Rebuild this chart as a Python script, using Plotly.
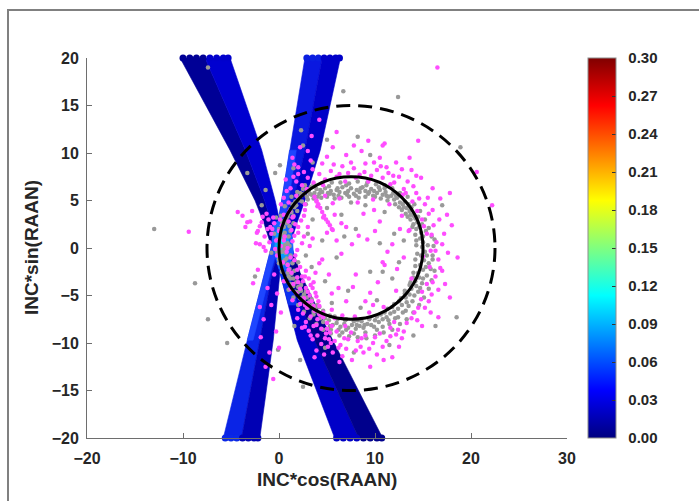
import plotly.graph_objects as go

# ---------------- data ----------------
# blue bands: y levels and x positions of the band boundaries
b_up_y = [20, 10.3, 5, 2.7, 0.5]
b_lo_y = [0.5, -2.6, -9.7, -20]
b1_up_left = [-10.3, -5.1, -2.5, -1.6, -0.9]
b1_up_mid = [-7.7, -3.5, -1.5, -0.8, 0.0]
b1_up_right = [-5.1, -1.8, -0.4, 0.1, 1.0]
b1_lo_left = [-0.8, 0.1, 1.9, 5.8]
b1_lo_mid = [0.2, 1.1, 3.7, 8.3]
b1_lo_right = [1.2, 2.2, 5.6, 10.8]
b2_up_left = [2.7, 1.1, 0.3, -0.1, -0.7]
b2_up_mid = [4.5, 2.7, 1.5, 0.9, 0.2]
b2_up_right = [6.4, 4.3, 2.7, 1.9, 1.2]
b2_lo_left = [-0.7, -1.5, -3.3, -5.8]
b2_lo_mid = [0.2, -0.7, -2.0, -3.9]
b2_lo_right = [1.1, 0.1, -0.6, -2.0]

# brighter patches near the crossing (colour value ~0.05 .. 0.11)
glow_blue = [(-0.6, 2.6), (0.3, 3.0), (1.3, 2.4), (1.5, -0.5), (1.0, -2.4), (0.0, -2.2), (-0.8, 0.5)]
glow_sky = [(-0.3, 1.8), (0.4, 2.1), (1.0, 0.9), (0.9, -1.3), (0.2, -1.5), (-0.5, 0.0)]
glow_cyan = [(-0.1, 1.1), (0.5, 1.2), (0.8, 0.3), (0.6, -0.6), (0.0, -0.5), (-0.2, 0.3)]
glow_b2up = [(-0.1, 2.7), (0.3, 5.0), (1.1, 10.3), (1.8, 10.3), (1.0, 5.0), (0.6, 2.7)]
glow_b2lo = [(-0.7, 0.5), (-1.5, -2.6), (-3.3, -9.7), (-2.7, -9.7), (-0.9, -2.6), (0.0, 0.5)]
glow_b1lo = [(-0.8, 0.5), (0.1, -2.6), (1.0, -6.0), (1.9, -6.0), (1.0, -2.6), (0.1, 0.5)]

# rounded ends of the bands at the axis limits
cap_x = [-10.0, -9.3, -8.6, -7.9, -7.2, -6.5, -5.8, -5.3,
         2.9, 3.5, 4.1, 4.7, 5.3, 5.9, 6.3,
         6.0, 6.7, 7.4, 8.1, 8.8, 9.5, 10.2, 10.7,
         -5.6, -5.0, -4.4, -3.8, -3.2, -2.6, -2.2]
cap_y = [20] * 15 + [-20] * 15
cap_c = ['#000096'] * 4 + ['#0000cc'] * 4 + ['#0a1ee0'] * 3 + ['#0000c8'] * 4 + \
        ['#0000c4'] * 4 + ['#00008c'] * 4 + ['#0a28e6'] * 3 + ['#0000b4'] * 4

gray_pts = [
    (0.5, 2.2), (0.7, 3.0), (0.3, 2.8), (1.0, 3.6), (1.2, 4.1), (0.9, 3.3), (1.4, 4.6), (1.7, 4.9), (1.6, 4.3),
    (2.0, 5.3), (2.3, 5.5), (2.1, 5.0), (2.6, 5.7), (2.9, 5.4), (3.1, 5.9), (3.4, 5.6), (3.7, 5.8), (3.9, 6.2),
    (4.2, 5.7), (4.5, 5.9), (4.8, 6.3), (5.1, 5.8), (5.4, 6.0), (5.7, 5.6), (6.0, 6.1), (6.3, 5.9), (6.6, 6.4),
    (6.9, 5.8), (7.2, 6.0), (7.5, 6.3), (7.8, 5.7), (8.1, 6.1), (8.4, 5.9), (8.7, 6.4), (9.0, 6.0), (9.3, 5.7),
    (9.6, 6.2), (9.9, 6.0), (10.2, 5.8), (10.5, 6.1), (10.8, 5.6), (11.1, 5.9), (11.4, 5.4), (11.7, 5.5),
    (12.0, 5.1), (12.3, 5.3), (12.6, 4.8), (12.9, 4.6), (13.1, 4.9), (13.3, 4.2), (13.6, 3.9), (13.8, 4.3),
    (14.0, 3.4), (14.2, 3.1), (14.4, 2.7), (14.6, 2.2), (14.3, 2.0), (14.8, 1.6), (14.7, 1.0), (15.0, 0.6),
    (14.9, 0.1), (15.2, -0.4), (14.8, -0.8), (15.1, -1.3), (14.7, -1.8), (15.0, -2.3), (14.5, -2.6),
    (14.6, -3.1), (14.2, -3.5), (14.3, -4.0), (13.8, -4.3), (13.6, -4.9), (13.2, -5.2), (13.3, -5.7),
    (12.8, -6.0), (12.4, -6.4), (12.0, -6.7), (11.6, -6.9), (11.2, -7.3), (10.8, -7.5), (10.4, -7.8),
    (10.0, -7.6), (9.6, -8.1), (9.2, -8.0), (8.8, -8.4), (8.4, -8.2), (8.0, -8.5), (7.6, -8.1), (7.2, -8.4),
    (6.8, -8.0), (6.4, -8.3), (6.0, -7.9), (5.6, -8.1), (5.2, -7.6), (4.8, -7.4), (4.5, -7.0), (4.1, -6.8),
    (3.8, -6.3), (3.5, -6.0), (3.2, -5.6), (2.9, -5.2), (2.6, -4.9), (2.3, -4.5), (2.0, -4.1), (1.8, -3.6),
    (1.5, -3.2), (1.3, -2.7), (1.1, -2.2), (0.9, -1.7), (0.8, -1.1), (0.7, -0.5), (0.6, 0.3), (0.5, 1.0),
    (0.6, 1.6),
    (2.5, 6.2), (3.3, 6.4), (4.0, 5.4), (5.2, 6.5), (6.2, 5.5), (7.0, 6.6), (8.0, 5.5), (9.1, 6.6), (10.0, 5.4),
    (11.0, 6.3), (11.9, 5.8), (12.5, 4.3), (13.5, 4.6), (13.4, 3.3), (14.0, 2.5), (15.3, 1.8), (15.5, 0.3),
    (14.3, 0.8), (15.6, -1.6), (14.2, -1.2), (15.4, -2.9), (14.0, -2.6), (14.9, -3.7), (13.7, -3.6),
    (14.5, -4.6), (13.1, -4.5), (13.9, -5.6), (12.7, -5.3), (13.2, -6.6), (12.0, -5.9), (12.4, -7.3),
    (11.3, -6.4), (11.5, -8.0), (10.6, -7.0), (10.2, -8.6), (9.4, -7.4), (9.0, -8.9), (8.2, -7.6),
    (7.8, -9.0), (7.0, -7.5), (6.6, -8.9), (5.8, -7.2), (5.4, -8.6), (4.6, -7.8), (4.2, -6.2), (3.6, -7.0),
    (3.0, -6.3), (2.6, -5.6), (2.2, -5.3), (1.7, -4.6), (1.2, -3.8), (1.0, -3.0), (0.4, -1.6), (0.3, -0.4),
    (0.9, 0.5), (1.2, 1.8), (1.5, 2.6), (1.9, 3.9), (2.8, 4.6), (16.0, -0.8), (15.8, -2.2), (16.2, 0.9),
    (2.4, 4.9), (3.0, 5.1), (3.6, 5.2), (4.4, 5.3), (5.0, 5.4), (5.8, 5.2), (6.5, 5.3), (7.3, 5.4), (8.3, 5.3),
    (9.0, 5.4), (9.8, 5.5), (10.6, 5.2), (11.3, 5.0), (12.1, 4.6), (12.8, 4.0), (13.2, 3.6), (13.7, 3.0),
    (13.9, 2.2), (14.2, 1.4), (14.3, 0.3), (14.4, -0.6), (14.2, -1.9), (14.0, -3.1), (13.6, -3.9),
    (13.1, -4.8), (12.5, -5.6), (11.8, -6.2), (11.0, -6.8), (10.2, -7.2), (9.4, -7.5), (8.6, -7.7),
    (7.8, -7.7), (6.9, -7.6), (6.1, -7.5), (5.3, -7.1), (4.6, -6.6), (4.0, -6.0), (3.4, -5.4), (2.8, -4.6),
    (2.3, -3.9), (1.9, -3.1), (1.6, -2.4), (1.4, -1.6), (1.2, -0.8), (1.1, 0.2), (1.0, 1.2), (1.1, 2.3),
    (1.5, 3.4),
    (1.3, 5.4), (1.9, 5.9), (2.7, 6.6), (3.6, 6.7), (4.5, 6.8), (5.5, 6.9), (6.4, 6.9), (7.3, 6.8), (8.2, 7.0),
    (9.2, 6.9), (10.1, 6.7), (11.0, 6.6), (11.8, 6.3), (12.6, 5.8), (13.4, 5.4), (14.1, 4.6), (14.7, 3.9),
    (15.2, 3.0), (15.6, 2.1), (15.9, 1.2), (16.1, 0.2), (16.0, -1.2), (16.2, -2.4), (15.9, -3.4),
    (15.6, -4.3), (15.1, -5.2), (14.6, -6.0), (14.0, -6.8), (13.3, -7.5), (12.6, -8.0), (11.8, -8.6),
    (10.9, -8.9), (10.0, -9.2), (9.1, -9.5), (8.2, -9.4), (7.3, -9.3), (6.3, -9.2), (5.4, -9.0), (4.6, -8.6),
    (3.9, -8.0), (3.2, -7.4), (2.6, -6.7), (2.0, -6.0), (1.5, -5.2), (1.0, -4.4), (0.6, -3.5), (0.3, -2.5),
    (0.0, -1.6), (-0.2, -0.4), (-0.2, 0.9), (0.0, 2.0), (0.2, 3.4), (0.6, 4.4),
    (2.2, 5.8), (3.2, 5.7), (4.3, 6.1), (5.3, 5.7), (6.1, 6.3), (7.1, 5.6), (8.5, 6.3), (9.4, 5.9), (10.4, 6.4),
    (11.2, 5.5), (12.2, 5.5), (13.0, 4.3), (13.7, 3.5), (14.5, 3.3), (14.9, 2.5), (15.0, 1.2), (15.4, -0.8),
    (15.3, -2.0), (15.0, -3.2), (14.7, -4.2), (14.1, -5.0), (13.5, -6.1), (12.9, -6.8), (12.1, -7.4),
    (11.4, -7.6), (10.8, -8.3), (9.9, -8.3), (8.9, -8.1), (8.1, -8.1), (7.0, -8.6), (6.2, -8.6), (5.3, -8.2),
    (4.3, -7.4), (3.6, -6.7), (3.1, -6.0), (2.4, -5.2), (2.0, -4.6), (1.5, -4.0), (1.2, -3.2), (0.9, -2.6),
    (0.6, -1.3), (0.5, -0.1), (0.3, 1.4), (0.8, 2.6), (1.3, 3.8), (1.8, 4.5),
    (3.5, 3.0), (5.0, 4.2), (6.5, 3.5), (9.0, 4.5), (11.0, 3.8), (12.0, 1.5), (10.5, 0.5), (8.0, 2.0),
    (4.5, 0.8), (3.0, 1.5), (6.0, -1.0), (9.5, -2.5), (11.8, -3.2), (7.2, -4.5), (4.8, -3.5), (3.4, -2.0),
    (12.5, -1.5), (10.2, -5.5), (5.5, -5.8), (8.5, -6.3), (2.8, -0.8), (13.0, 0.8), (7.5, 4.8), (2.0, -1.5),
    (6.8, 1.2), (10.8, -2.5),
    (-13.0, 2.0), (-8.75, -3.7), (-7.4, -7.5), (-5.4, -10.0), (6.7, 16.5), (8.2, 11.7), (5.0, 11.4),
    (0.1, 8.7), (-0.4, 7.9), (-7.4, 19.0), (-3.3, 7.9), (-1.4, 6.1), (-1.8, 4.5), (2.3, 12.4), (2.5, 10.8),
    (1.5, 8.4), (18.9, 10.6), (12.4, 15.9), (18.5, -7.3), (16.3, -8.2), (-0.1, -10.7), (2.5, -14.6),
    (-0.5, 1.5), (-0.8, -0.5), (0.0, -1.2), (-0.3, 3.2), (3.5, 9.0), (9.5, 9.8), (4.8, -10.5), (7.8, -11.0),
    (11.5, -10.2), (14.0, -9.2), (-2.5, -3.0), (1.6, -8.2), (2.2, -11.8), (17.0, 4.5),
]

magenta_pts = [
    (-1.2, 2.0), (-0.8, 1.5), (-0.5, 2.6), (0.0, 1.8), (0.3, 2.4), (0.6, 1.2), (1.0, 2.8), (1.3, 1.9),
    (1.7, 2.5), (2.0, 1.6), (-1.5, 1.2), (-1.0, 0.6), (-0.3, 0.8), (0.2, 0.2), (0.8, -0.4), (1.4, 0.7),
    (1.9, -0.2), (2.3, 2.9), (-0.6, 3.2), (0.5, 3.5), (1.1, 3.9), (-1.8, 2.7), (-2.2, 1.8), (2.6, 3.4),
    (3.0, 2.2), (-0.2, -0.8), (0.4, -1.5), (1.2, -1.0), (2.4, 0.5), (-1.4, -0.3),
    (-9.4, 1.7), (-4.3, 3.8), (-3.3, 2.7), (-3.0, 2.8), (-2.2, -2.3), (-2.7, -3.7),
    (-2.3, 1.6), (-2.0, 0.4), (-2.4, 0.5), (-1.7, 3.3), (-2.0, 2.3), (-1.3, 3.6), (-0.9, 2.2), (-1.6, 0.1),
    (0.9, -1.8), (1.6, -1.3), (2.2, -2.0), (1.3, -2.6), (2.8, -2.4), (1.9, -3.1), (2.5, -3.5), (1.5, -3.8),
    (3.1, -3.2), (2.2, -4.3), (3.0, -4.6), (1.8, -4.8), (3.5, -4.2), (2.6, -5.3), (3.4, -5.6), (2.2, -5.9),
    (3.9, -5.1), (2.9, -6.3), (3.7, -6.6), (2.5, -6.9), (4.2, -6.1), (3.3, -7.2), (4.0, -7.5), (2.8, -7.8),
    (4.6, -6.8), (3.6, -8.2), (4.4, -8.5), (3.1, -8.7), (5.0, -7.9), (4.0, -9.2), (4.8, -9.5), (3.5, -9.6),
    (5.3, -8.9), (4.4, -10.1), (5.1, -10.4), (5.8, -9.8), (3.9, -10.8), (4.7, -11.2), (2.0, -6.5),
    (1.4, -5.5), (2.4, -8.4), (1.9, -7.4), (5.6, -11.0), (6.2, -10.5),
    (-0.5, -2.8), (-1.2, -4.2), (-0.8, -6.0), (-1.6, -7.5), (-0.3, -8.8), (-1.9, -9.4), (-1.0, -11.0),
    (-0.2, -4.8), (-2.0, -6.2), (0.2, -6.8), (-1.4, -12.5), (-0.6, -13.8), (0.5, -3.5), (0.0, -10.5),
    (1.2, 6.3), (1.8, 7.0), (2.4, 6.6), (3.0, 7.4), (3.6, 6.9), (4.2, 7.8), (4.8, 7.2), (5.4, 8.1), (6.0, 7.5),
    (6.6, 8.6), (7.2, 7.9), (7.8, 8.4), (8.4, 7.7), (9.0, 8.9), (9.6, 7.6), (10.2, 8.2), (10.8, 7.4),
    (11.4, 7.9), (12.0, 6.9), (12.5, 7.5), (13.0, 6.2), (2.0, 8.5), (3.3, 9.2), (5.0, 9.6), (7.0, 9.8),
    (8.6, 10.2), (10.5, 9.5), (12.2, 9.0), (13.8, 8.2), (0.5, 5.3), (1.0, 4.8), (2.7, 4.6), (3.9, 4.9),
    (6.3, 5.2), (8.2, 4.8), (9.8, 5.1), (11.5, 4.6), (2.2, 10.6), (6.0, 12.2), (9.3, 11.3), (4.2, 13.5),
    (1.4, 9.5), (11.0, 11.0), (3.4, 11.8),
    (3.7, 5.4), (3.9, 5.0), (4.1, 4.6), (4.3, 4.2), (4.5, 3.8), (4.7, 3.4), (4.9, 3.0), (5.1, 2.7), (5.3, 2.4),
    (4.0, 4.4), (4.6, 3.2), (5.5, 2.0), (5.0, 1.6),
    (1.6, 8.8), (2.0, 7.8), (1.8, 5.5), (2.7, 4.0), (1.4, 3.2), (-3.8, 3.4), (-2.8, 3.9), (-3.5, 2.2),
    (13.2, 5.8), (14.0, 6.5), (14.6, 5.2), (15.2, 4.6), (13.9, 4.9), (15.6, 3.6), (14.9, 3.0), (16.1, 2.4),
    (15.4, 1.5), (16.4, 0.6), (15.8, -0.3), (16.6, -1.2), (15.7, -2.0), (16.3, -3.0), (15.4, -3.8),
    (15.9, -4.9), (14.8, -5.4), (15.2, -6.3), (14.1, -6.8), (14.4, -7.6), (13.3, -7.9), (13.0, -8.8),
    (12.2, -9.1), (11.6, -8.4), (17.2, 1.5), (17.0, -2.4), (17.5, 3.5), (16.8, 5.2), (17.8, 5.8), (20.6, 8.0),
    (22.2, 4.5), (13.6, 9.5), (10.8, 10.8), (14.5, 11.3), (16.5, 19.0), (18.6, -1.0), (17.8, -5.2),
    (16.6, -7.3), (13.8, -3.2), (13.5, 1.8), (12.8, 3.4), (13.0, -1.0),
    (6.0, -8.8), (6.8, -9.5), (7.5, -8.9), (8.2, -9.8), (9.0, -9.2), (9.8, -10.0), (10.5, -9.0), (11.2, -9.8),
    (7.0, -10.6), (8.8, -11.0), (10.2, -11.2), (5.8, -7.4), (6.6, -7.1), (7.9, -7.2), (9.4, -6.8),
    (10.9, -6.2), (12.0, -7.8), (12.5, -10.4), (6.3, -12.0), (9.5, -12.5), (5.5, -6.5), (8.5, -10.4),
    (11.8, -11.5),
    (3.5, 1.0), (5.8, 3.5), (7.0, 2.2), (8.8, 3.6), (10.5, 2.8), (11.8, 0.4), (9.2, 0.9), (6.5, -0.6),
    (4.2, -1.6), (8.0, -2.8), (10.3, -3.6), (12.2, -4.5), (6.2, -4.2), (9.0, -5.6), (3.6, -3.6), (11.0, -1.8),
    (7.6, 0.4), (5.2, -2.8), (12.6, 2.0), (4.8, 5.5), (9.9, 4.0), (7.7, -4.1), (9.5, -4.7), (10.8, -1.5),
    (13.6, 1.9), (4.5, -1.2), (5.6, 1.9),
    (1.5, 7.5), (2.6, 8.0), (3.5, 8.3), (4.5, 8.9), (5.7, 8.8), (6.3, 7.8), (7.5, 9.0), (8.0, 7.4), (8.9, 8.0),
    (9.9, 9.0), (10.6, 8.6), (11.2, 8.5), (11.9, 7.6), (12.8, 8.3), (13.4, 7.0), (14.3, 7.6), (2.9, 6.2),
    (4.6, 6.6), (6.9, 7.0), (9.3, 7.0), (11.6, 6.7), (12.9, 5.6), (0.8, 6.0), (0.2, 4.6), (0.7, 7.2),
    (3.0, 10.2), (7.8, 10.8), (5.6, 10.6),
    (14.3, 5.8), (15.5, 5.3), (16.0, 4.0), (14.4, 3.9), (16.7, 3.0), (15.1, 2.3), (15.9, 1.4), (17.0, 0.4),
    (16.3, -0.3), (15.0, -0.9), (16.8, -2.1), (16.0, -3.6), (14.9, -4.6), (16.6, -4.4), (15.6, -5.6),
    (14.5, -6.3), (15.8, -6.8), (13.8, -7.4), (14.9, -8.2), (12.8, -9.5), (17.6, -0.5), (18.0, 2.4),
    (17.3, -3.8), (16.0, 6.3), (14.8, 7.4),
    (5.2, -9.6), (6.4, -10.2), (7.2, -9.6), (8.0, -10.8), (8.6, -9.5), (9.4, -10.6), (10.0, -9.4),
    (10.8, -10.4), (11.6, -9.3), (12.4, -8.6), (6.9, -8.2), (7.6, -11.8), (10.9, -11.8), (4.3, -7.0),
    (5.0, -8.5),
    (0.5, 0.8), (1.6, 1.3), (-0.7, 2.0), (0.1, 3.0), (1.5, 3.3), (2.0, 2.2), (-1.1, 3.0), (0.9, 0.0),
    (1.7, -0.8), (2.6, 1.2), (-0.4, -0.1), (1.0, -2.3), (1.9, -2.3), (2.7, -3.0), (2.0, -3.6), (3.3, -3.9),
    (2.8, -4.2), (3.8, -4.7), (3.2, -5.0), (4.1, -5.6), (3.0, -5.8), (3.6, -6.1), (4.6, -7.3), (3.9, -8.1),
    (4.2, -7.0), (5.5, -8.2), (4.9, -9.0), (5.4, -10.0), (3.3, -9.2), (2.7, -8.3), (6.6, -11.4), (3.7, -11.5),
    (2.4, -3.0), (1.2, -4.3), (2.7, -6.0),
    (5.6, 4.7), (6.5, 2.6), (3.2, 0.2), (8.3, 1.3), (10.0, 1.8), (11.3, -0.4), (12.3, -2.2), (9.8, -6.0),
    (7.0, -5.6), (5.5, -4.8), (3.8, -2.6), (6.0, 0.8),
]

# reference circles: (centre x, centre y, radius)
solid_circle = (7.5, 0.0, 7.5)
dashed_circle = (7.5, 0.0, 15.0)

x_ticks = [-20, -10, 0, 10, 20, 30]
y_ticks = [-20, -15, -10, -5, 0, 5, 10, 15, 20]
cbar_ticks = [0.0, 0.03, 0.06, 0.09, 0.12, 0.15, 0.18, 0.21, 0.24, 0.27, 0.30]

# ---------------- figure ----------------
FONT = "Liberation Sans, Arial, sans-serif"
TXT = "#262626"
jet = [[0.0, 'rgb(0,0,128)'], [0.125, 'rgb(0,0,255)'], [0.375, 'rgb(0,255,255)'],
       [0.625, 'rgb(255,255,0)'], [0.875, 'rgb(255,0,0)'], [1.0, 'rgb(128,0,0)']]

fig = go.Figure()


def strip(xa, xb, ys, color):
    fig.add_trace(go.Scatter(x=list(xa) + list(xb)[::-1], y=list(ys) + list(ys)[::-1],
                             mode='lines', fill='toself', fillcolor=color,
                             line=dict(width=0.6, color=color), hoverinfo='skip', showlegend=False))


def poly(pts, color):
    fig.add_trace(go.Scatter(x=[p[0] for p in pts], y=[p[1] for p in pts], mode='lines',
                             fill='toself', fillcolor=color, line=dict(width=0.6, color=color),
                             hoverinfo='skip', showlegend=False))


strip(b1_up_left, b1_up_mid, b_up_y, '#000096')
strip(b1_up_mid, b1_up_right, b_up_y, '#0000d0')
strip(b1_lo_left, b1_lo_mid, b_lo_y, '#0000c8')
strip(b1_lo_mid, b1_lo_right, b_lo_y, '#00008c')
strip(b2_up_left, b2_up_mid, b_up_y, '#0a18e0')
strip(b2_up_mid, b2_up_right, b_up_y, '#0000c8')
strip(b2_lo_left, b2_lo_mid, b_lo_y, '#0a24e6')
strip(b2_lo_mid, b2_lo_right, b_lo_y, '#0000b4')
poly(glow_b2up, '#1e46ff')
poly(glow_b2lo, '#1e46ff')
poly(glow_b1lo, '#0a32f0')
poly(glow_blue, '#1464ff')
poly(glow_sky, '#0a9bff')
poly(glow_cyan, '#00e6ff')

fig.add_trace(go.Scatter(x=cap_x, y=cap_y, mode='markers', cliponaxis=False,
                         marker=dict(size=7, color=cap_c, line=dict(width=0)),
                         hoverinfo='skip', showlegend=False))

fig.add_trace(go.Scatter(x=[p[0] for p in gray_pts], y=[p[1] for p in gray_pts], mode='markers',
                         marker=dict(size=4.5, color='#999999', line=dict(width=0)), showlegend=False))
fig.add_trace(go.Scatter(x=[p[0] for p in magenta_pts], y=[p[1] for p in magenta_pts], mode='markers',
                         marker=dict(size=4.5, color='#ff4dff', line=dict(width=0)), showlegend=False))

# colour bar carrier (point outside the visible range)
fig.add_trace(go.Scatter(x=[100], y=[100], mode='markers', hoverinfo='skip', showlegend=False,
                         marker=dict(size=1, color=[0.0], cmin=0.0, cmax=0.30, colorscale=jet,
                                     showscale=True,
                                     colorbar=dict(x=(588 - 87) / 480, xanchor='left', xpad=0,
                                                   y=0.5, yanchor='middle', len=1.0, lenmode='fraction',
                                                   ypad=0, thickness=28, outlinewidth=1, outlinecolor='#8c8c8c',
                                                   tickvals=cbar_ticks,
                                                   ticktext=['\u00a0\u00a0%.2f' % v for v in cbar_ticks],
                                                   ticks='inside', ticklen=4, tickcolor='#333333',
                                                   tickfont=dict(family=FONT, size=15, color=TXT,
                                                                 weight='bold')))))

for (cx, cy, r), dash in ((solid_circle, 'solid'), (dashed_circle, '14px,8px')):
    fig.add_shape(type='circle', xref='x', yref='y', x0=cx - r, x1=cx + r, y0=cy - r, y1=cy + r,
                  line=dict(color='black', width=3, dash=dash))

# figure window frame
fig.add_shape(type='rect', xref='paper', yref='paper', x0=(8 - 87) / 480, x1=3,
              y0=-3, y1=(438 - 10) / 380, line=dict(color='#808080', width=2), layer='above')

axis_common = dict(showgrid=False, zeroline=False, showline=True, linecolor='#6e6e6e', linewidth=1,
                   ticks='inside', ticklen=5, tickcolor='#6e6e6e', mirror=False,
                   tickfont=dict(family=FONT, size=16, color=TXT, weight='bold'))
fig.update_xaxes(range=[-20, 30], tickvals=x_ticks, ticklabelstandoff=6, **axis_common)
fig.update_yaxes(range=[-20, 20], tickvals=y_ticks, ticklabelstandoff=4, **axis_common)

fig.add_annotation(text='INC*cos(RAAN)', xref='paper', yref='paper', x=0.5, y=(438 - 480) / 380,
                   xanchor='center', yanchor='middle', showarrow=False,
                   font=dict(family=FONT, size=19, color=TXT, weight='bold'))
fig.add_annotation(text='INC*sin(RAAN)', xref='paper', yref='paper', x=(31 - 87) / 480, y=0.5,
                   xanchor='center', yanchor='middle', textangle=-90, showarrow=False,
                   font=dict(family=FONT, size=19, color=TXT, weight='bold'))

fig.update_layout(width=699, height=501, margin=dict(l=87, r=132, t=58, b=63, autoexpand=False),
                  paper_bgcolor='white', plot_bgcolor='white', showlegend=False)

fig.write_html("out.html", config={'displayModeBar': False},
               post_script="document.body.style.margin='0px';")
